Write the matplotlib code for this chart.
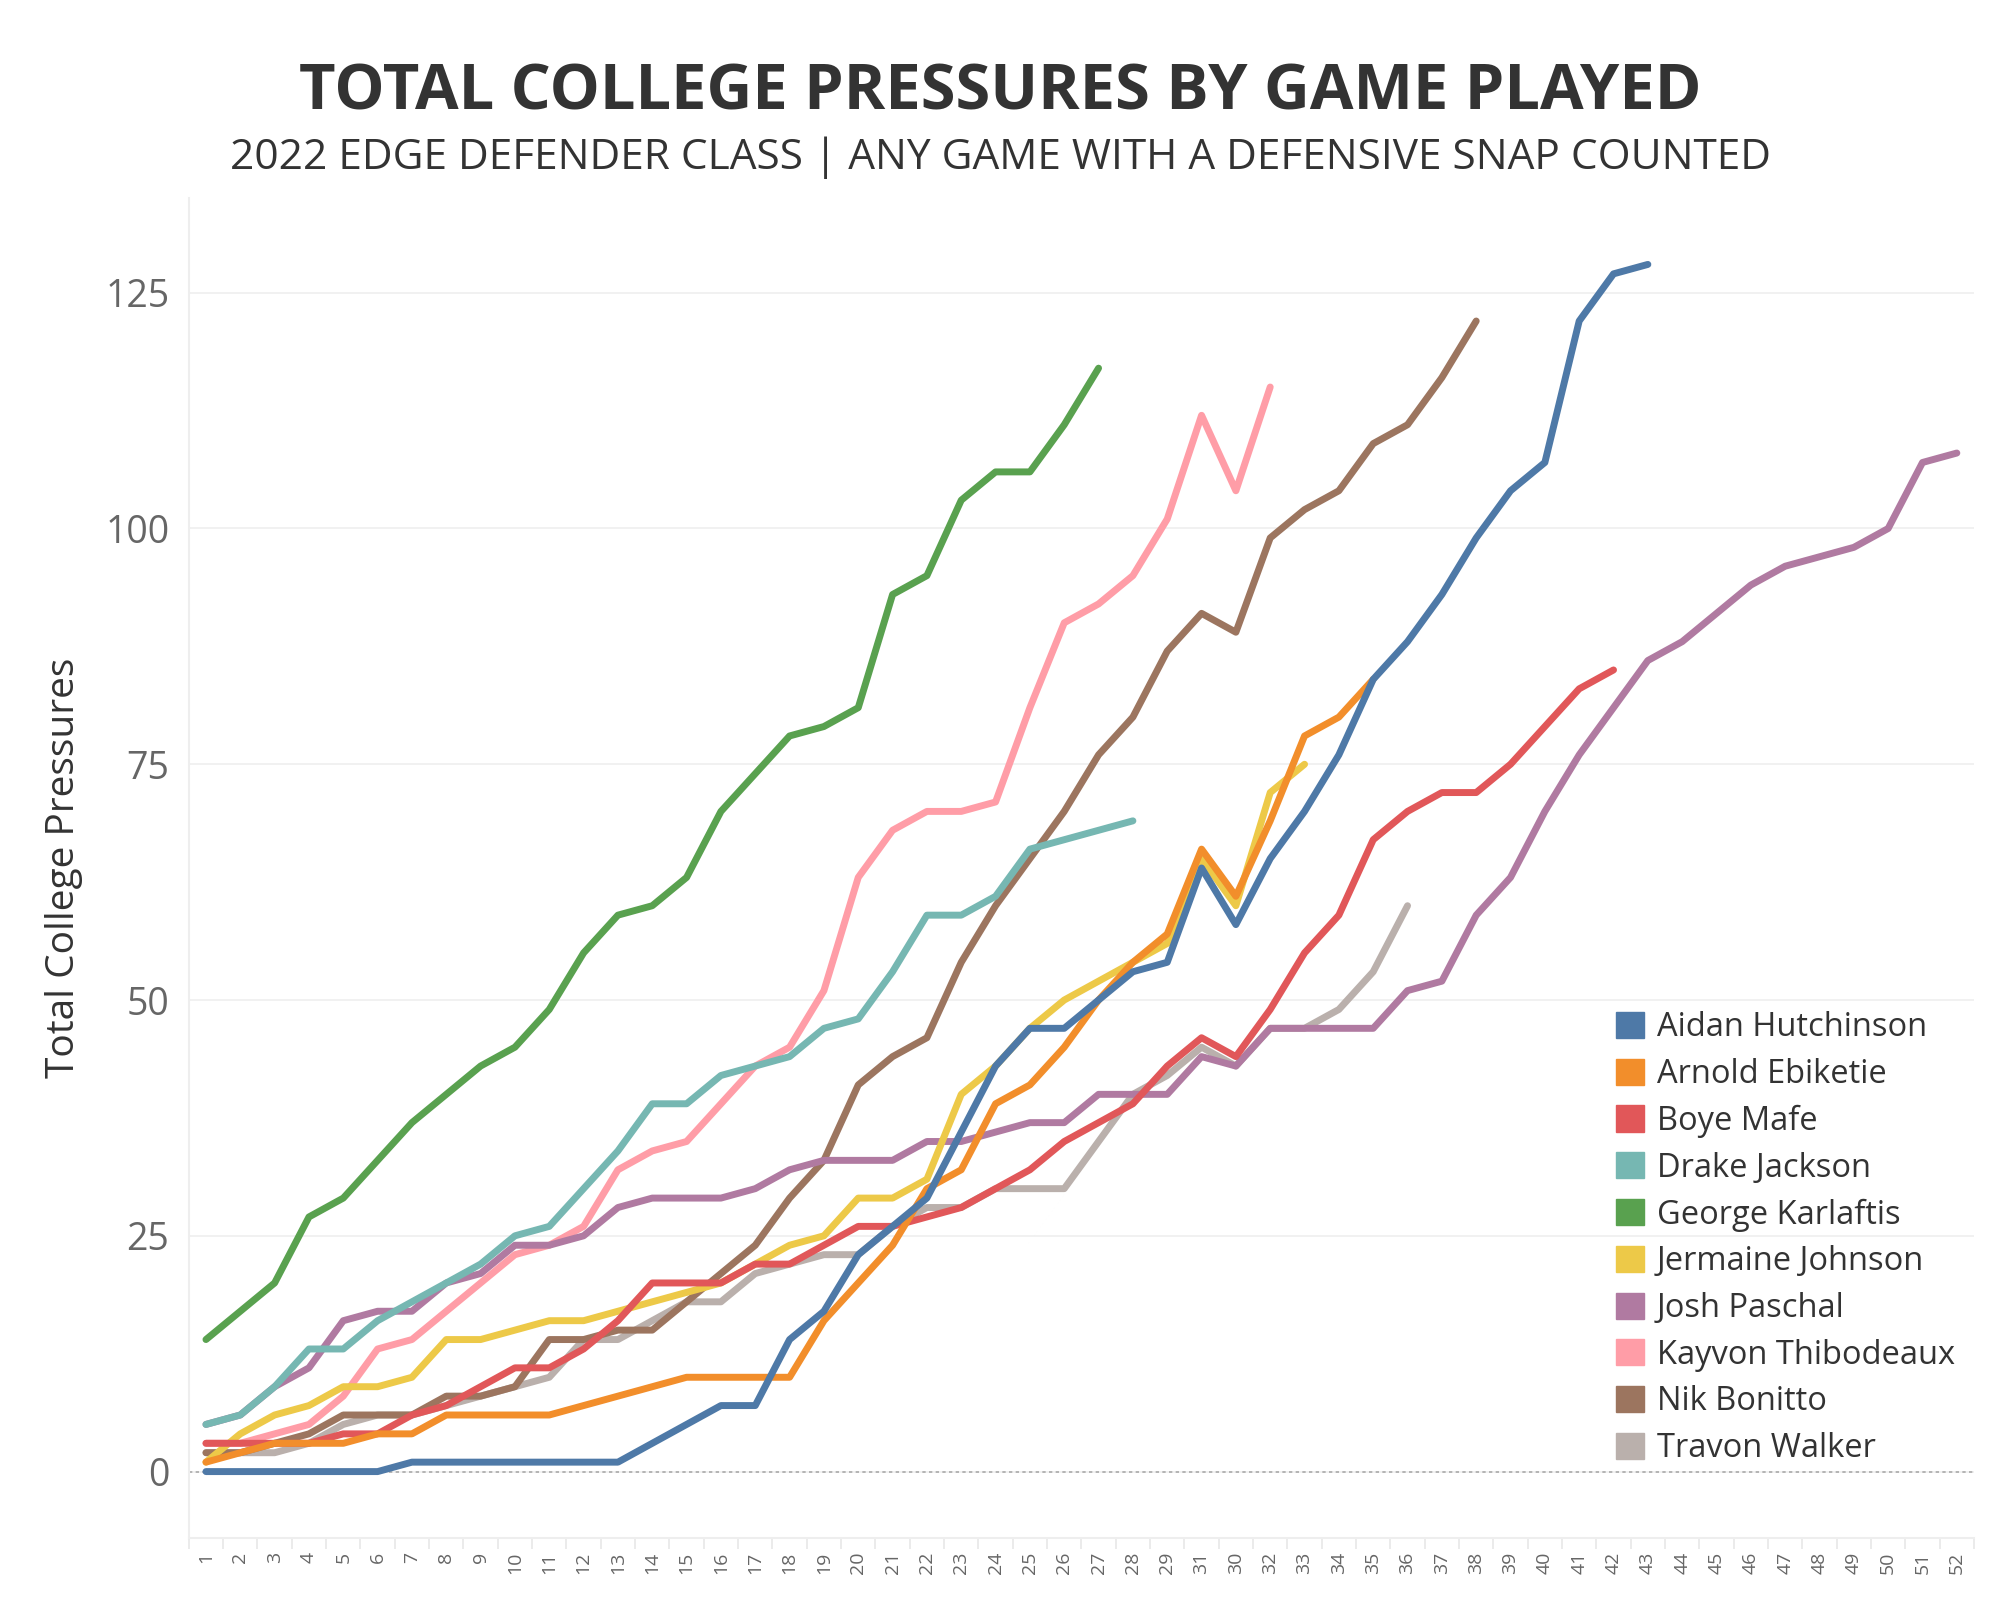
import matplotlib
matplotlib.use("Agg")
import matplotlib.pyplot as plt
import numpy as np

plt.rcParams['font.family'] = ['Open Sans', 'DejaVu Sans']

# game order as it appears on the axis (31 comes before 30 in the source)
games = [str(i) for i in range(1, 30)] + ['31', '30'] + [str(i) for i in range(32, 53)]

players = ['Aidan Hutchinson', 'Arnold Ebiketie', 'Boye Mafe', 'Drake Jackson',
           'George Karlaftis', 'Jermaine Johnson', 'Josh Paschal',
           'Kayvon Thibodeaux', 'Nik Bonitto', 'Travon Walker']

colors = ['#4e79a7', '#f28e2b', '#e15759', '#76b7b2', '#59a14f',
          '#edc948', '#b07aa1', '#ff9da7', '#9c755f', '#bab0ac']

aidan = [0, 0, 0, 0, 0, 0, 1, 1, 1, 1, 1, 1, 1, 3, 5, 7, 7, 14, 17, 23, 26, 29,
         36, 43, 47, 47, 50, 53, 54, 64, 58, 65, 70, 76, 84, 88, 93, 99, 104,
         107, 122, 127, 128]
arnold = [1, 2, 3, 3, 3, 4, 4, 6, 6, 6, 6, 7, 8, 9, 10, 10, 10, 10, 16, 20,
          24, 30, 32, 39, 41, 45, 50, 54, 57, 66, 61, 69, 78, 80, 84]
boye = [3, 3, 3, 3, 4, 4, 6, 7, 9, 11, 11, 13, 16, 20, 20, 20, 22, 22, 24, 26,
        26, 27, 28, 30, 32, 35, 37, 39, 43, 46, 44, 49, 55, 59, 67, 70, 72, 72,
        75, 79, 83, 85]
drake = [5, 6, 9, 13, 13, 16, 18, 20, 22, 25, 26, 30, 34, 39, 39, 42, 43, 44,
         47, 48, 53, 59, 59, 61, 66, 67, 68, 69]
george = [14, 17, 20, 27, 29, 33, 37, 40, 43, 45, 49, 55, 59, 60, 63, 70, 74,
          78, 79, 81, 93, 95, 103, 106, 106, 111, 117]
jermaine = [1, 4, 6, 7, 9, 9, 10, 14, 14, 15, 16, 16, 17, 18, 19, 20, 22, 24,
            25, 29, 29, 31, 40, 43, 47, 50, 52, 54, 56, 65, 60, 72, 75]
josh = [5, 6, 9, 11, 16, 17, 17, 20, 21, 24, 24, 25, 28, 29, 29, 29, 30, 32,
        33, 33, 33, 35, 35, 36, 37, 37, 40, 40, 40, 44, 43, 47, 47, 47, 47, 51,
        52, 59, 63, 70, 76, 81, 86, 88, 91, 94, 96, 97, 98, 100, 107, 108]
kayvon = [3, 3, 4, 5, 8, 13, 14, 17, 20, 23, 24, 26, 32, 34, 35, 39, 43, 45,
          51, 63, 68, 70, 70, 71, 81, 90, 92, 95, 101, 112, 104, 115]
nik = [2, 2, 3, 4, 6, 6, 6, 8, 8, 9, 14, 14, 15, 15, 18, 21, 24, 29, 33, 41,
       44, 46, 54, 60, 65, 70, 76, 80, 87, 91, 89, 99, 102, 104, 109, 111, 116,
       122]
travon = [2, 2, 2, 3, 5, 6, 6, 7, 8, 9, 10, 14, 14, 16, 18, 18, 21, 22, 23, 23,
          26, 28, 28, 30, 30, 30, 35, 40, 42, 45, 43, 47, 47, 49, 53, 60]

series = [aidan, arnold, boye, drake, george, jermaine, josh, kayvon, nik, travon]

fig = plt.figure(figsize=(20, 16), dpi=100)
ax = fig.add_axes([0.0944, 0.039, 0.8926, 0.837])

# first legend entry sits on top, so draw from the last one
for name, vals, c in reversed(list(zip(players, series, colors))):
    ax.plot(games[:len(vals)], vals, color=c, lw=5,
            solid_capstyle='round', solid_joinstyle='round')

ax.set_xlim(-0.45, len(games) - 0.55)
ax.set_ylim(-7, 135)
ax.set_yticks([0, 25, 50, 75, 100, 125])
ax.grid(axis='y', color='#efefef', lw=1.2)
ax.axhline(0, color='#aaaaaa', lw=1.2, ls=(0, (2, 2)), zorder=1)
ax.set_axisbelow(True)

for s in ['top', 'right']:
    ax.spines[s].set_visible(False)
ax.spines['left'].set_color('#eeeeee')
ax.spines['bottom'].set_color('#eeeeee')
ax.spines['left'].set_linewidth(1.5)
ax.spines['bottom'].set_linewidth(1.5)

# small separators between the game columns
ax.set_xticks(np.arange(-0.5, len(games), 1), minor=True)
ax.tick_params(axis='x', which='minor', length=8, color='#e8e8e8', width=1.2)
ax.tick_params(axis='x', which='major', length=0, labelsize=14,
               labelcolor='#666666', labelrotation=90, pad=10)
ax.tick_params(axis='y', length=0, labelsize=27, labelcolor='#666666', pad=14)
ax.set_ylabel('Total College Pressures', fontsize=28, color='#333333', labelpad=16)

fig.text(0.5, 0.942, 'TOTAL COLLEGE PRESSURES BY GAME PLAYED', ha='center',
         va='center', fontsize=45.5, fontweight='bold', color='#333333')
fig.text(0.5, 0.9015, '2022 EDGE DEFENDER CLASS | ANY GAME WITH A DEFENSIVE SNAP COUNTED',
         ha='center', va='center', fontsize=30.5, color='#333333')

leg_handles = [plt.Rectangle((0, 0), 1, 1, color=c) for c in colors]
ax.legend(leg_handles, players, loc='upper left', bbox_to_anchor=(0.783, 0.415),
          frameon=False, fontsize=23.5, labelcolor='#333333', handlelength=0.86,
          handleheight=0.86, handletextpad=0.4, labelspacing=0.42)

fig.savefig('out.png', dpi=100)
